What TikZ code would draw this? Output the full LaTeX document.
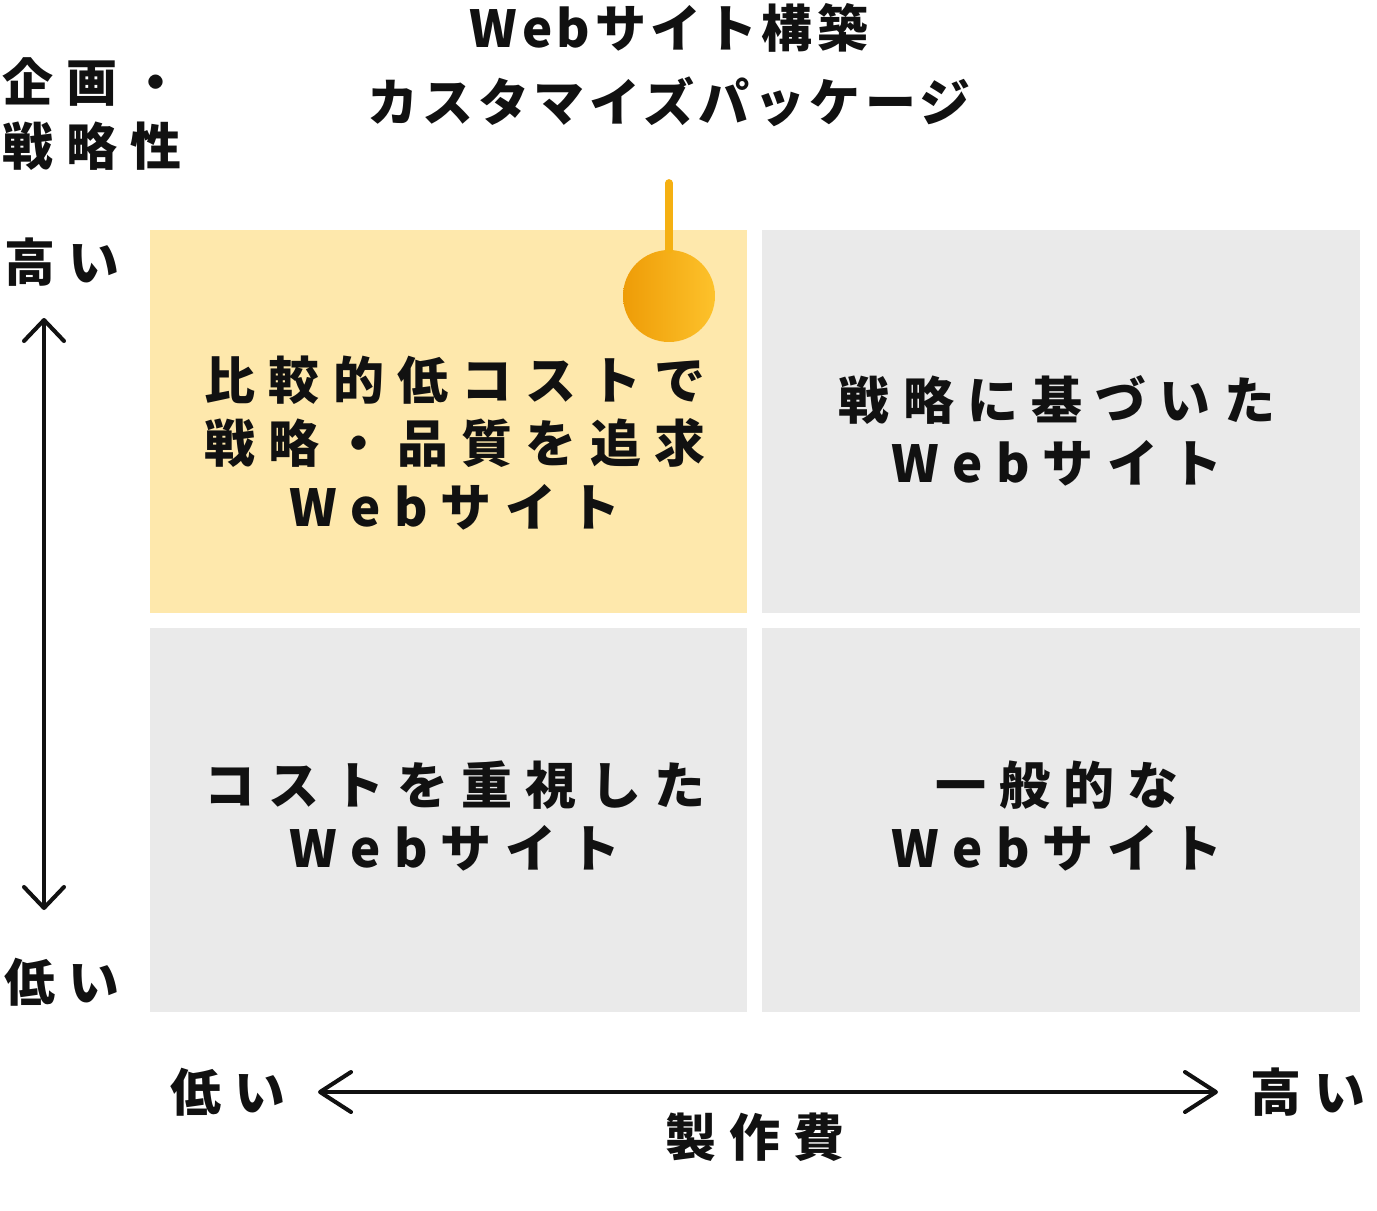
\documentclass[tikz,border=0pt]{standalone}
\usepackage{fontspec}
\usepackage{tikz}
\usepackage{xcolor}
\usetikzlibrary{arrows.meta,positioning,calc}
\setmainfont{Noto Sans CJK JP}
\newfontfamily\jpwide{Noto Sans CJK JP}[LetterSpace=26]
\newfontfamily\jptight{Noto Sans CJK JP}[LetterSpace=9]
\definecolor{inkdark}{HTML}{111111}
\definecolor{quadgray}{HTML}{EAEAEA}
\definecolor{quadyellow}{HTML}{FEE8AC}
\definecolor{pinleft}{HTML}{EE9C07}
\definecolor{pinright}{HTML}{FDC22B}
\definecolor{pinstem}{HTML}{F5B012}

\begin{document}
\begin{tikzpicture}[
  x=0.02cm, y=-0.02cm,
  quad/.style={draw=none, inner sep=0pt, minimum width=11.95cm, minimum height=7.67cm},
  txt/.style={font=\jpwide\bfseries\fontsize{29}{36}\selectfont, text=inkdark, align=center, inner sep=0pt},
  ttl/.style={font=\jptight\bfseries\fontsize{29}{42}\selectfont, text=inkdark, align=center, inner sep=0pt},
  axis/.style={draw=inkdark, line width=2.3pt, line cap=round},
]
% Canvas: pixel grid of the source picture, y pointing down
\useasboundingbox (0,0) rectangle (1377,1211);

% Four quadrants
\foreach \n/\cx/\cy/\c in {qtl/448.5/421.5/quadyellow, qtr/1061/421.5/quadgray,
                            qbl/448.5/820/quadgray, qbr/1061/820/quadgray} {
  \node[quad, fill=\c] (\n) at (\cx,\cy) {};
}

% Quadrant texts
\node[txt] (ttl-q) at (455,443) {比較的低コストで\\戦略・品質を追求\\Webサイト};
\node[txt] (ttr-q) at (1057,431) {戦略に基づいた\\Webサイト};
\node[txt] (tbl-q) at (455,816) {コストを重視した\\Webサイト};
\node[txt] (tbr-q) at (1057,816) {一般的な\\Webサイト};

% Package pin with caption
\node[ttl] (pkg) at (669,65) {Webサイト構築\\カスタマイズパッケージ};
\node[circle, inner sep=0pt, minimum size=1.84cm, left color=pinleft, right color=pinright] (pin) at (669,296) {};
\coordinate (pintop) at (669,183);
\draw[pinstem, line width=4.4pt, line cap=round] (pintop) -- (pin.north);

% Vertical axis: strategy
\coordinate (vhi) at (44,318);
\coordinate (vlo) at (44,910);
\draw[axis, {Straight Barb[length=0.42cm, width=0.8cm, round]}-{Straight Barb[length=0.42cm, width=0.8cm, round]}] (vlo) -- (vhi);
\node[txt, align=left, anchor=west] (strat) at (2,114) {企画・\\戦略性};
\node[txt] (vhi-l) at (62,262) {高い};
\node[txt] (vlo-l) at (62,982) {低い};

% Horizontal axis: cost
\coordinate (hlo) at (318,1092);
\coordinate (hhi) at (1218,1092);
\draw[axis, {Straight Barb[length=0.62cm, width=0.8cm, round]}-{Straight Barb[length=0.62cm, width=0.8cm, round]}] (hlo) -- (hhi);
\node[txt] (hlo-l) at (228,1092) {低い};
\node[txt] (hhi-l) at (1308,1092) {高い};
\node[txt] (cost) at (755,1137) {製作費};
\end{tikzpicture}
\end{document}
